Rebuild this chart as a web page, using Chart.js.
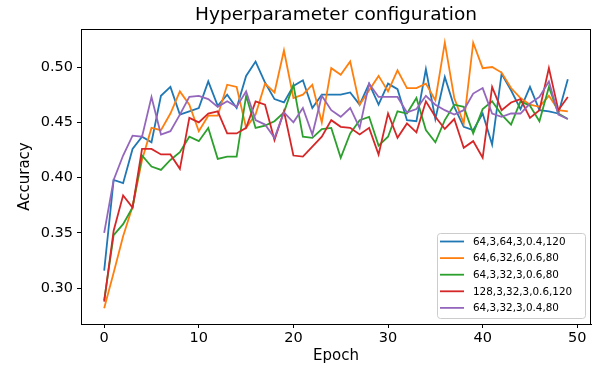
<!DOCTYPE html>
<html>
<head>
<meta charset="utf-8">
<script src="https://cdn.jsdelivr.net/npm/chart.js@4"></script>
<style>
  html, body { margin: 0; padding: 0; background: #ffffff; }
  canvas { display: block; }
</style>
</head>
<body>
<canvas id="c" width="597" height="370"></canvas>
<script>
const epochs = [0,1,2,3,4,5,6,7,8,9,10,11,12,13,14,15,16,17,18,19,20,21,22,23,24,25,26,27,28,29,30,31,32,33,34,35,36,37,38,39,40,41,42,43,44,45,46,47,48,49];

const seriesNames = ["64,3,64,3,0.4,120", "64,6,32,6,0.6,80", "64,3,32,3,0.6,80", "128,3,32,3,0.6,120", "64,3,32,3,0.4,80"];
const seriesColors = ["#1f77b4", "#ff7f0e", "#2ca02c", "#d62728", "#9467bd"];

const blue = [0.316,0.398,0.395,0.426,0.437,0.432,0.474,0.482,0.457,0.460,
              0.463,0.487,0.465,0.475,0.463,0.492,0.505,0.486,0.471,0.468,
              0.483,0.488,0.463,0.475,0.475,0.475,0.477,0.466,0.485,0.466,
              0.485,0.480,0.452,0.451,0.498,0.453,0.491,0.464,0.446,0.443,
              0.458,0.430,0.494,0.479,0.462,0.482,0.461,0.460,0.458,0.489];
const orange = [0.282,0.314,0.347,0.374,0.416,0.445,0.443,0.458,0.478,0.466,
                0.442,0.456,0.456,0.484,0.482,0.445,0.457,0.485,0.477,0.515,
                0.472,0.475,0.484,0.450,0.499,0.493,0.505,0.466,0.479,0.492,
                0.478,0.497,0.481,0.481,0.485,0.470,0.522,0.472,0.449,0.522,
                0.499,0.500,0.495,0.481,0.472,0.466,0.464,0.474,0.461,0.460];
const green = [0.289,0.348,0.358,0.373,0.420,0.410,0.407,0.416,0.423,0.437,
               0.433,0.445,0.417,0.419,0.419,0.474,0.445,0.447,0.451,0.459,
               0.484,0.437,0.436,0.444,0.445,0.418,0.440,0.452,0.455,0.429,
               0.437,0.460,0.458,0.472,0.443,0.432,0.452,0.466,0.464,0.440,
               0.462,0.469,0.457,0.448,0.469,0.465,0.451,0.482,0.458,0.453];
const red = [0.288,0.352,0.384,0.373,0.426,0.426,0.421,0.421,0.408,0.454,
             0.450,0.458,0.460,0.440,0.440,0.445,0.469,0.466,0.434,0.460,
             0.420,0.419,0.428,0.437,0.452,0.446,0.445,0.439,0.445,0.421,
             0.458,0.436,0.449,0.441,0.469,0.455,0.444,0.453,0.427,0.433,
             0.418,0.482,0.461,0.468,0.471,0.454,0.461,0.499,0.461,0.473];
const purple = [0.350,0.398,0.420,0.438,0.437,0.473,0.439,0.442,0.457,0.473,
                0.474,0.471,0.464,0.469,0.464,0.478,0.452,0.448,0.436,0.459,
                0.450,0.463,0.439,0.474,0.461,0.455,0.463,0.445,0.485,0.473,
                0.473,0.473,0.459,0.462,0.474,0.466,0.461,0.457,0.461,0.476,
                0.481,0.458,0.455,0.458,0.458,0.467,0.473,0.487,0.457,0.453];

const xTicks = [0, 10, 20, 30, 40, 50];
const yTicks = [0.30, 0.35, 0.40, 0.45, 0.50];

const allSeries = [blue, orange, green, red, purple];
const FONT = "'DejaVu Sans', 'Liberation Sans', sans-serif";

const datasets = allSeries.map((vals, i) => ({
  label: seriesNames[i],
  data: vals.map((v, k) => ({ x: epochs[k], y: v })),
  borderColor: seriesColors[i],
  backgroundColor: seriesColors[i],
  borderWidth: 1.8,
  pointRadius: 0,
  pointHoverRadius: 0,
  tension: 0,
  fill: false,
  order: allSeries.length - i
}));

const framePlugin = {
  id: 'frame',
  afterDraw(chart) {
    const { ctx, chartArea: a } = chart;
    ctx.save();
    // frame
    ctx.strokeStyle = '#000';
    ctx.lineWidth = 1;
    ctx.strokeRect(Math.round(a.left) + 0.5, Math.round(a.top) + 0.5,
                   Math.round(a.right - a.left) - 1, Math.round(a.bottom - a.top));
    // title
    ctx.fillStyle = '#000';
    ctx.font = "18.5px " + FONT;
    ctx.textAlign = 'center';
    ctx.textBaseline = 'middle';
    ctx.fillText('Hyperparameter configuration', (a.left + a.right) / 2, 15);
    // legend
    const bx = 437, by = 233, bw = 148, bh = 85, r = 3;
    ctx.globalAlpha = 0.8;
    ctx.fillStyle = '#fff';
    ctx.beginPath();
    ctx.roundRect(bx + 0.5, by + 0.5, bw, bh, r);
    ctx.fill();
    ctx.globalAlpha = 1;
    ctx.strokeStyle = '#cccccc';
    ctx.lineWidth = 1;
    ctx.stroke();
    ctx.font = "10.4px " + FONT;
    ctx.textAlign = 'left';
    ctx.textBaseline = 'middle';
    chart.data.datasets.forEach((ds, i) => {
      const yy = by + 8.5 + i * 16.6;
      ctx.strokeStyle = ds.borderColor;
      ctx.lineWidth = 1.8;
      ctx.beginPath();
      ctx.moveTo(bx + 3, yy);
      ctx.lineTo(bx + 27, yy);
      ctx.stroke();
      ctx.fillStyle = '#000';
      ctx.fillText(ds.label, bx + 36, yy + 0.5);
    });
    ctx.restore();
  }
};

new Chart(document.getElementById('c'), {
  type: 'line',
  data: { datasets },
  options: {
    responsive: false,
    animation: false,
    devicePixelRatio: 1,
    layout: { padding: { top: 29, right: 6, left: 0, bottom: 0 } },
    plugins: {
      legend: { display: false },
      title: { display: false },
      tooltip: { enabled: false }
    },
    scales: {
      x: {
        type: 'linear',
        min: -2.45,
        max: 51.45,
        afterFit(scale) { scale.height = 46; },
        afterBuildTicks(scale) { scale.ticks = xTicks.map(v => ({ value: v })); },
        grid: { drawOnChartArea: false, drawTicks: true, tickLength: 4, tickColor: '#000', tickWidth: 1 },
        border: { display: true, color: '#000', width: 1 },
        ticks: { color: '#000', font: { family: FONT, size: 14.5 }, padding: 2, maxRotation: 0, autoSkip: false,
                 callback: v => String(v) },
        title: { display: true, text: 'Epoch', color: '#000', font: { family: FONT, size: 15 }, padding: { top: 0, bottom: 5 } }
      },
      y: {
        type: 'linear',
        min: 0.2677,
        max: 0.5344,
        afterFit(scale) { scale.width = 81; },
        afterBuildTicks(scale) { scale.ticks = yTicks.map(v => ({ value: v })); },
        grid: { drawOnChartArea: false, drawTicks: true, tickLength: 4, tickColor: '#000', tickWidth: 1 },
        border: { display: true, color: '#000', width: 1 },
        ticks: { color: '#000', font: { family: FONT, size: 14.5 }, padding: 4, autoSkip: false,
                 callback: v => Number(v).toFixed(2) },
        title: { display: true, text: 'Accuracy', color: '#000', font: { family: FONT, size: 15 }, padding: { top: 16, bottom: 0 } }
      }
    }
  },
  plugins: [framePlugin]
});
</script>
</body>
</html>
